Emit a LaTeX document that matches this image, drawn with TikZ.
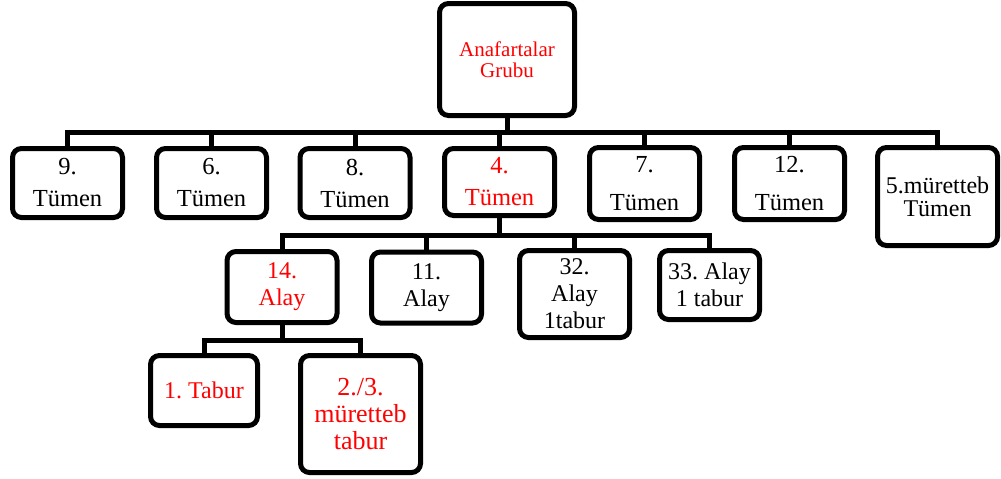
\documentclass[tikz,border=0pt]{standalone}
\usepackage{fontspec}
\setmainfont{Liberation Serif}
\usepackage{xcolor}
\frenchspacing

\begin{document}
\begin{tikzpicture}[x=1pt,y=-1pt,
  orgbox/.style={draw,line width=5pt,rounded corners=9pt,fill=white,inner sep=0pt,
    align=center,minimum width=110pt,minimum height=69pt,
    font=\fontsize{24}{27}\selectfont},
  conn/.style={line width=5pt}]
\definecolor{hilite}{HTML}{FF0000}
\useasboundingbox (0,0) rectangle (1001,479);
\coordinate (bus1) at (0,132);
\coordinate (bus2) at (0,235);
\coordinate (bus3) at (0,340);
% top
\node [orgbox,text=hilite,minimum width=135pt,minimum height=112pt,
  font=\fontsize{21}{21}\selectfont] (grubu) at (507,59.5) {Anafartalar\\Grubu};
% tumenler
\foreach \nm/\x/\y/\h/\clr/\bs/\txt in {t9/67.5/183/69/black/32/9.,t6/211.5/183/69/black/32/6.,
  t8/355/183/69/black/32/8.,t4/499.5/182/67/hilite/32/4.,
  t7/644.5/183.5/72/black/38/7.,t12/789.5/183.5/72/black/38/12.}
  {\node [orgbox,text=\clr,minimum height=\h pt,font=\fontsize{24.5}{\bs}\selectfont]
    (\nm) at (\x,\y) {\txt\\Tümen};}
\node [orgbox,minimum width=120pt,minimum height=98pt,
  font=\fontsize{24}{23}\selectfont] (t5) at (937.5,196.5) {5.müretteb\\Tümen};
% alaylar
\node [orgbox,text=hilite,minimum height=71pt] (a14) at (282,287) {14.\\Alay};
\node [orgbox,minimum height=71pt] (a11) at (426.5,287.5) {11.\\Alay};
\node [orgbox,minimum height=87pt] (a32) at (574.5,294) {32.\\Alay\\1tabur};
\node [orgbox,minimum width=100pt] (a33) at (709.5,285) {33. Alay\\1 tabur};
% taburlar
\node [orgbox,text=hilite,minimum width=107pt,minimum height=70pt] (tb1) at (204,390.5) {1. Tabur};
\node [orgbox,text=hilite,minimum width=120pt,minimum height=117pt,
  font=\fontsize{26}{27}\selectfont] (tb23) at (360.5,414) {2./3.\\müretteb\\tabur};
% baglantilar
\foreach \nm in {t9,t6,t8,t4,t7,t12,t5}
  \draw [conn] (grubu.south) -- (grubu.south |- bus1) -| (\nm.north);
\foreach \nm in {a14,a11,a32,a33}
  \draw [conn] (t4.south) -- (t4.south |- bus2) -| (\nm.north);
\foreach \nm in {tb1,tb23}
  \draw [conn] (a14.south) -- (a14.south |- bus3) -| (\nm.north);
\end{tikzpicture}
\end{document}
